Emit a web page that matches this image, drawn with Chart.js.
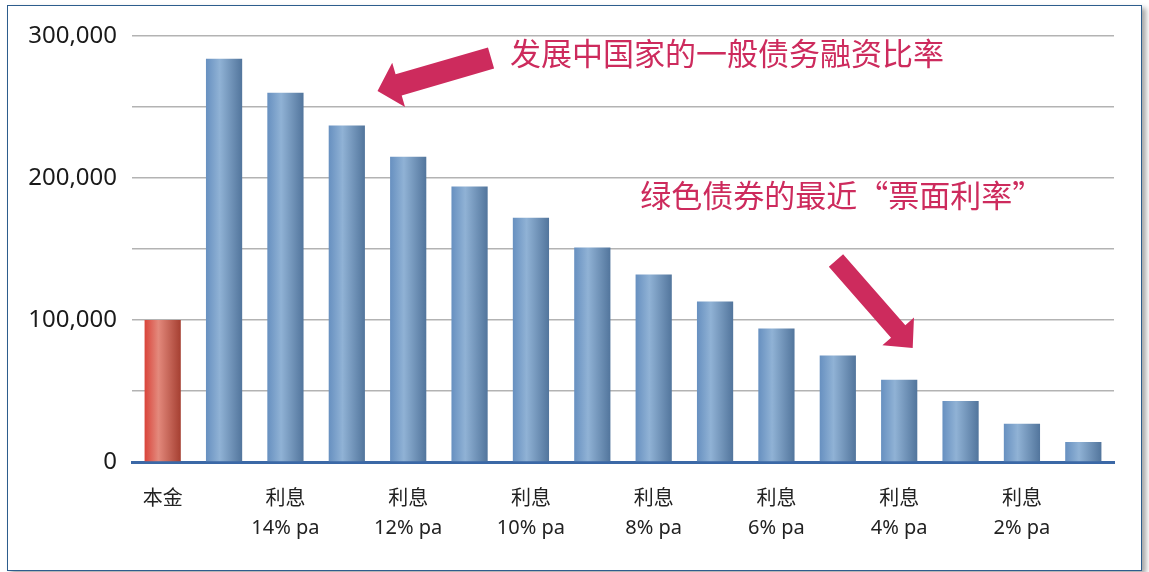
<!DOCTYPE html>
<html>
<head>
<meta charset="utf-8">
<script src="https://cdn.jsdelivr.net/npm/chart.js@4"></script>
<style>
  html, body { margin: 0; padding: 0; background: #ffffff; }
  body { width: 1149px; height: 572px; position: relative; overflow: hidden; }
  .frame {
    position: absolute; left: 7px; top: 5px; width: 1133px; height: 564px;
    border: 1.5px solid #2d5d8d; background: #ffffff;
    box-shadow: 4px 3px 5px rgba(0, 0, 0, 0.35);
  }
  #wrap { position: absolute; left: 0; top: 0; width: 1149px; height: 572px; }
</style>
</head>
<body>
<div class="frame"></div>
<div id="wrap"><canvas id="barChart"></canvas></div>
<script>
// 本金与各利率下的累计利息
const categories = [
    ['本金'], [''], ['利息', '14% pa'], [''], ['利息', '12% pa'], [''], ['利息', '10% pa'], [''],
    ['利息', '8% pa'], [''], ['利息', '6% pa'], [''], ['利息', '4% pa'], [''], ['利息', '2% pa'], ['']
];
const amounts = [100000, 284000, 260000, 237000, 215000, 194000, 172000, 151000,
    132000, 113000, 94000, 75000, 58000, 43000, 27000, 14000];
const yTicks = [0, 100000, 200000, 300000];

// 注释文字与箭头（按坐标轴数值定位）
const notes = [
    { text: '发展中国家的一般债务融资比率', x: 5.66, y: 288000 },
    { text: '绿色债券的最近“票面利率”', x: 7.78, y: 188000 }
];
const arrows = [
    { from: [5.35, 284500], to: [3.50, 261300], shaft: 22, head: 23, headLen: 22 },
    { from: [10.97, 141900], to: [12.22, 80300], shaft: 19, head: 21, headLen: 22 }
];

const pink = '#cd2b5d';

// 柱子的横向渐变
function barGradient(context) {
    const chart = context.chart;
    const area = chart.chartArea;
    const red = context.dataIndex === 0;
    if (!area) return red ? '#d8453a' : '#6d95c2';
    const xs = chart.scales.x;
    const cx = xs.getPixelForValue(context.dataIndex);
    const w = xs.width / categories.length * 0.59;
    const g = chart.ctx.createLinearGradient(cx - w / 2, 0, cx + w / 2, 0);
    if (red) {
        g.addColorStop(0, '#d9443a');
        g.addColorStop(0.38, '#e3897c');
        g.addColorStop(1, '#a53f31');
    } else {
        g.addColorStop(0, '#6790c0');
        g.addColorStop(0.38, '#90b2d5');
        g.addColorStop(1, '#52759c');
    }
    return g;
}

// 画注释和箭头
const notesPlugin = {
    id: 'notes',
    afterDatasetsDraw(chart) {
        const ctx = chart.ctx;
        const xs = chart.scales.x, ys = chart.scales.y;
        const px = v => xs.getPixelForValue(0) + v * (xs.getPixelForValue(1) - xs.getPixelForValue(0));
        ctx.save();
        ctx.fillStyle = pink;
        ctx.font = '31px "Noto Sans CJK SC", sans-serif';
        ctx.textBaseline = 'middle';
        ctx.textAlign = 'left';
        notes.forEach(n => ctx.fillText(n.text, px(n.x), ys.getPixelForValue(n.y)));

        arrows.forEach(a => {
            const x0 = px(a.from[0]), y0 = ys.getPixelForValue(a.from[1]);
            const x1 = px(a.to[0]), y1 = ys.getPixelForValue(a.to[1]);
            const len = Math.hypot(x1 - x0, y1 - y0);
            const ux = (x1 - x0) / len, uy = (y1 - y0) / len;
            const nx = -uy, ny = ux;
            const bx = x1 - ux * a.headLen, by = y1 - uy * a.headLen;
            const s = a.shaft / 2;
            ctx.beginPath();
            ctx.moveTo(x0 + nx * s, y0 + ny * s);
            ctx.lineTo(bx + nx * s, by + ny * s);
            ctx.lineTo(bx + nx * a.head, by + ny * a.head);
            ctx.lineTo(x1, y1);
            ctx.lineTo(bx - nx * a.head, by - ny * a.head);
            ctx.lineTo(bx - nx * s, by - ny * s);
            ctx.lineTo(x0 - nx * s, y0 - ny * s);
            ctx.closePath();
            ctx.fill();
        });
        ctx.restore();
    }
};

const ctxBar = document.getElementById('barChart').getContext('2d');
const barChart = new Chart(ctxBar, {
    type: 'bar',
    data: {
        labels: categories,
        datasets: [{
            data: amounts,
            backgroundColor: barGradient,
            borderWidth: 0,
            categoryPercentage: 1,
            barPercentage: 0.59
        }]
    },
    options: {
        responsive: true,
        maintainAspectRatio: false,
        animation: false,
        layout: { padding: { left: 0, right: 35, top: 36, bottom: 0 } },
        plugins: {
            legend: { display: false },
            tooltip: { enabled: false }
        },
        scales: {
            x: {
                grid: { display: false, drawTicks: false },
                border: { display: true, color: '#3b68a6', width: 3 },
                ticks: {
                    autoSkip: false,
                    maxRotation: 0,
                    padding: 23,
                    color: '#222222',
                    font: { family: '"Noto Sans", "Noto Sans CJK SC", sans-serif', size: 20, lineHeight: 1.45 }
                },
                afterFit(scale) { scale.height = 110; }
            },
            y: {
                min: 0,
                max: 300000,
                afterBuildTicks(scale) {
                    scale.ticks = [];
                    for (let v = 0; v <= 300000; v += 50000) scale.ticks.push({ value: v });
                },
                grid: { color: '#b3b3b3', lineWidth: 1.5, drawTicks: false },
                border: { display: false },
                ticks: {
                    padding: 15,
                    color: '#1a1a1a',
                    font: { family: '"Noto Sans", sans-serif', size: 24 },
                    callback: v => yTicks.includes(v) ? v.toLocaleString('en-US') : ''
                },
                afterFit(scale) { scale.width = 132; }
            }
        }
    },
    plugins: [notesPlugin]
});
</script>
</body>
</html>
